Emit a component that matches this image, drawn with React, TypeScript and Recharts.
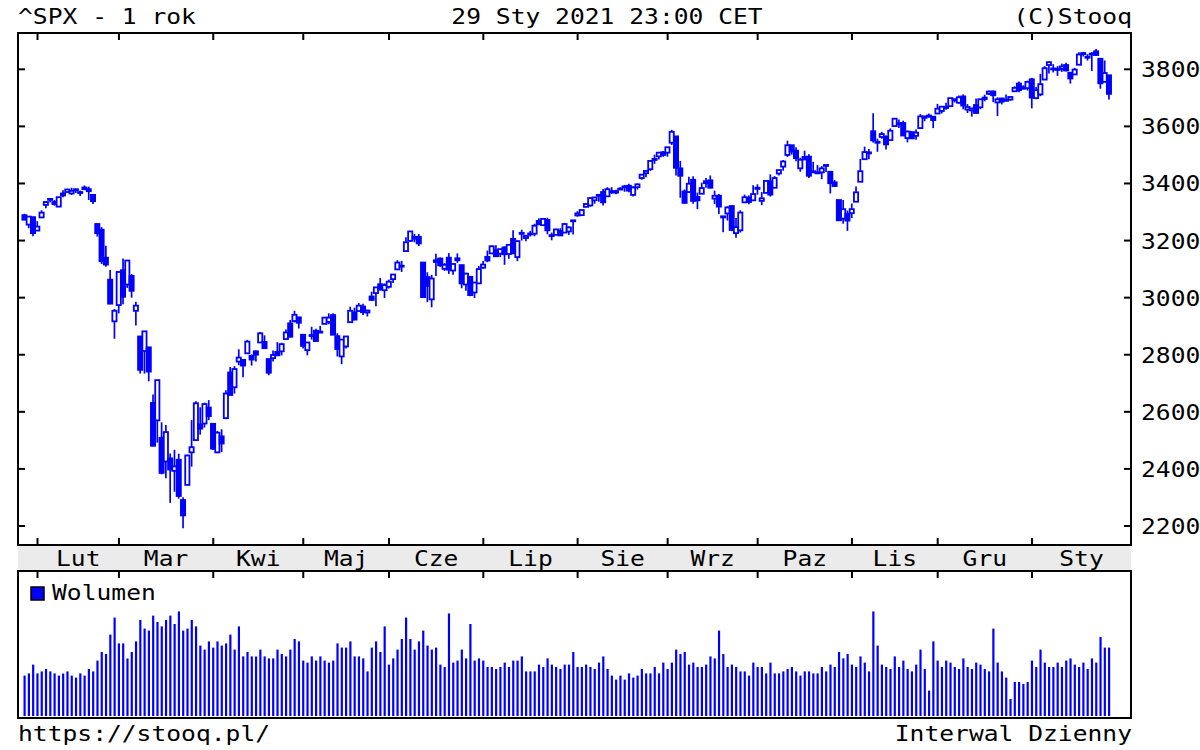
import React from 'react';
import { BarChart, Bar, XAxis, YAxis } from 'recharts';

// trading sessions, grouped by month
const tradingDays: [string, number[]][] = [
  ['2020-01', [29, 30, 31]],
  ['2020-02', [3, 4, 5, 6, 7, 10, 11, 12, 13, 14, 18, 19, 20, 21, 24, 25, 26, 27, 28]],
  ['2020-03', [2, 3, 4, 5, 6, 9, 10, 11, 12, 13, 16, 17, 18, 19, 20, 23, 24, 25, 26, 27, 30, 31]],
  ['2020-04', [1, 2, 3, 6, 7, 8, 9, 13, 14, 15, 16, 17, 20, 21, 22, 23, 24, 27, 28, 29, 30]],
  ['2020-05', [1, 4, 5, 6, 7, 8, 11, 12, 13, 14, 15, 18, 19, 20, 21, 22, 26, 27, 28, 29]],
  ['2020-06', [1, 2, 3, 4, 5, 8, 9, 10, 11, 12, 15, 16, 17, 18, 19, 22, 23, 24, 25, 26, 29, 30]],
  ['2020-07', [1, 2, 6, 7, 8, 9, 10, 13, 14, 15, 16, 17, 20, 21, 22, 23, 24, 27, 28, 29, 30, 31]],
  ['2020-08', [3, 4, 5, 6, 7, 10, 11, 12, 13, 14, 17, 18, 19, 20, 21, 24, 25, 26, 27, 28, 31]],
  ['2020-09', [1, 2, 3, 4, 8, 9, 10, 11, 14, 15, 16, 17, 18, 21, 22, 23, 24, 25, 28, 29, 30]],
  ['2020-10', [1, 2, 5, 6, 7, 8, 9, 12, 13, 14, 15, 16, 19, 20, 21, 22, 23, 26, 27, 28, 29, 30]],
  ['2020-11', [2, 3, 4, 5, 6, 9, 10, 11, 12, 13, 16, 17, 18, 19, 20, 23, 24, 25, 27, 30]],
  ['2020-12', [1, 2, 3, 4, 7, 8, 9, 10, 11, 14, 15, 16, 17, 18, 21, 22, 23, 24, 28, 29, 30, 31]],
  ['2021-01', [4, 5, 6, 7, 8, 11, 12, 13, 14, 15, 19, 20, 21, 22, 25, 26, 27, 28, 29]],
];

const openPx = [
  3289, 3256, 3282,
  3235, 3281, 3325, 3344, 3335, 3319, 3365, 3370, 3365, 3379, 3369, 3380, 3380, 3360, 3258, 3238, 3140, 3063, 2917,
  2974, 3096, 3046, 3076, 2954, 2864, 2813, 2826, 2631, 2570, 2509, 2426, 2437, 2393, 2432, 2291, 2344, 2458, 2501, 2556, 2559, 2615,
  2558, 2458, 2514, 2578, 2738, 2686, 2776, 2782, 2805, 2796, 2812, 2843, 2845, 2785, 2788, 2810, 2812, 2855, 2910, 2918, 2931,
  2870, 2816, 2869, 2884, 2879, 2908, 2915, 2939, 2865, 2794, 2829, 2914, 2948, 2953, 2969, 2948, 3004, 3016, 3047, 3026,
  3038, 3065, 3099, 3112, 3163, 3199, 3213, 3213, 3123, 3072, 2994, 3131, 3137, 3101, 3140, 3095, 3138, 3114, 3046, 3073, 3018, 3050,
  3105, 3143, 3155, 3166, 3154, 3176, 3153, 3206, 3142, 3225, 3209, 3224, 3224, 3269, 3254, 3272, 3219, 3220, 3234, 3228, 3232, 3270,
  3288, 3289, 3318, 3323, 3341, 3357, 3370, 3355, 3373, 3368, 3380, 3387, 3392, 3360, 3387, 3419, 3436, 3450, 3486, 3495, 3509,
  3508, 3543, 3565, 3453, 3372, 3370, 3413, 3353, 3364, 3408, 3411, 3347, 3357, 3285, 3295, 3321, 3226, 3236, 3334, 3350, 3341,
  3385, 3339, 3367, 3408, 3385, 3435, 3459, 3500, 3534, 3515, 3453, 3493, 3494, 3439, 3439, 3439, 3464, 3441, 3404, 3342, 3277, 3293,
  3296, 3336, 3406, 3485, 3509, 3583, 3543, 3563, 3563, 3552, 3601, 3611, 3612, 3559, 3580, 3567, 3594, 3635, 3638, 3634,
  3645, 3654, 3668, 3671, 3695, 3683, 3705, 3659, 3656, 3675, 3667, 3696, 3714, 3722, 3684, 3698, 3693, 3694, 3723, 3750, 3737, 3734,
  3765, 3699, 3712, 3764, 3815, 3803, 3801, 3802, 3815, 3788, 3782, 3816, 3857, 3844, 3852, 3863, 3837, 3756, 3779,
];

const highPx = [
  3294, 3286, 3282,
  3268, 3306, 3338, 3348, 3342, 3352, 3376, 3381, 3385, 3381, 3375, 3393, 3389, 3361, 3260, 3247, 3182, 3097, 2960,
  3091, 3137, 3131, 3083, 2986, 2864, 2883, 2826, 2661, 2711, 2563, 2554, 2454, 2467, 2453, 2301, 2450, 2571, 2637, 2616, 2632, 2641,
  2560, 2533, 2539, 2676, 2757, 2760, 2819, 2782, 2852, 2801, 2815, 2880, 2868, 2785, 2815, 2844, 2842, 2888, 2922, 2954, 2931,
  2870, 2844, 2898, 2891, 2901, 2932, 2945, 2945, 2875, 2852, 2865, 2968, 2965, 2981, 2979, 2957, 3021, 3036, 3069, 3050,
  3063, 3081, 3131, 3129, 3212, 3233, 3223, 3223, 3123, 3089, 3080, 3154, 3141, 3121, 3156, 3120, 3155, 3115, 3087, 3073, 3054, 3111,
  3128, 3165, 3183, 3184, 3171, 3180, 3186, 3236, 3200, 3238, 3220, 3234, 3259, 3278, 3279, 3280, 3228, 3241, 3243, 3262, 3250, 3272,
  3303, 3307, 3331, 3351, 3353, 3363, 3381, 3387, 3387, 3378, 3387, 3395, 3399, 3390, 3400, 3433, 3444, 3482, 3501, 3509, 3514,
  3528, 3588, 3565, 3479, 3379, 3424, 3425, 3368, 3403, 3419, 3428, 3375, 3363, 3285, 3320, 3324, 3279, 3306, 3361, 3358, 3394,
  3397, 3370, 3409, 3432, 3426, 3447, 3482, 3550, 3534, 3527, 3490, 3515, 3502, 3476, 3465, 3461, 3466, 3441, 3412, 3342, 3342, 3305,
  3330, 3389, 3486, 3529, 3521, 3646, 3557, 3581, 3569, 3593, 3628, 3624, 3620, 3585, 3582, 3589, 3643, 3636, 3645, 3634,
  3679, 3670, 3683, 3699, 3698, 3708, 3712, 3678, 3665, 3698, 3695, 3711, 3726, 3726, 3702, 3698, 3712, 3704, 3740, 3757, 3744, 3760,
  3770, 3738, 3784, 3811, 3827, 3818, 3811, 3820, 3823, 3789, 3805, 3860, 3861, 3853, 3860, 3871, 3837, 3831, 3779,
];

const lowPx = [
  3272, 3243, 3215,
  3235, 3281, 3313, 3333, 3322, 3317, 3352, 3370, 3360, 3367, 3356, 3379, 3342, 3328, 3214, 3118, 3108, 2977, 2856,
  2945, 2977, 3034, 3000, 2902, 2734, 2734, 2707, 2479, 2492, 2381, 2367, 2281, 2320, 2296, 2192, 2344, 2408, 2501, 2520, 2545, 2571,
  2466, 2455, 2459, 2574, 2657, 2664, 2763, 2721, 2805, 2762, 2776, 2843, 2821, 2728, 2776, 2795, 2798, 2855, 2860, 2913, 2892,
  2822, 2798, 2853, 2847, 2876, 2908, 2907, 2869, 2794, 2767, 2822, 2914, 2921, 2953, 2939, 2934, 2988, 2970, 3024, 2999,
  3032, 3051, 3099, 3090, 3163, 3197, 3194, 3181, 2999, 2984, 2966, 3076, 3108, 3094, 3083, 3080, 3122, 3033, 3024, 3005, 2999, 3048,
  3101, 3124, 3155, 3142, 3142, 3115, 3136, 3154, 3128, 3200, 3198, 3214, 3215, 3254, 3253, 3222, 3201, 3220, 3216, 3228, 3220, 3221,
  3284, 3287, 3318, 3318, 3329, 3336, 3323, 3355, 3363, 3362, 3379, 3371, 3369, 3354, 3379, 3413, 3422, 3444, 3469, 3484, 3494,
  3494, 3535, 3428, 3350, 3329, 3367, 3329, 3310, 3364, 3385, 3385, 3328, 3293, 3229, 3270, 3233, 3210, 3228, 3334, 3327, 3341,
  3361, 3324, 3367, 3354, 3385, 3428, 3445, 3493, 3501, 3478, 3441, 3483, 3419, 3439, 3433, 3415, 3440, 3365, 3388, 3269, 3259, 3234,
  3279, 3336, 3405, 3485, 3485, 3543, 3511, 3557, 3519, 3552, 3601, 3594, 3567, 3544, 3557, 3553, 3594, 3618, 3630, 3594,
  3645, 3645, 3658, 3670, 3684, 3679, 3660, 3647, 3634, 3646, 3660, 3688, 3710, 3685, 3636, 3677, 3689, 3690, 3723, 3720, 3730, 3726,
  3663, 3695, 3706, 3764, 3785, 3789, 3777, 3791, 3792, 3750, 3782, 3816, 3845, 3831, 3794, 3847, 3732, 3756, 3694,
];

const closePx = [
  3273, 3284, 3226,
  3249, 3298, 3335, 3346, 3328, 3352, 3358, 3379, 3374, 3380, 3370, 3386, 3373, 3338, 3226, 3128, 3116, 2979, 2954,
  3090, 3003, 3130, 3024, 2972, 2747, 2882, 2741, 2481, 2711, 2386, 2529, 2398, 2409, 2305, 2237, 2447, 2476, 2630, 2541, 2627, 2585,
  2471, 2527, 2489, 2664, 2659, 2750, 2790, 2762, 2846, 2783, 2800, 2875, 2823, 2737, 2799, 2798, 2837, 2878, 2863, 2940, 2912,
  2831, 2843, 2868, 2848, 2881, 2930, 2930, 2870, 2820, 2853, 2864, 2954, 2923, 2972, 2949, 2955, 2992, 3036, 3030, 3044,
  3056, 3081, 3123, 3112, 3194, 3232, 3207, 3190, 3002, 3041, 3067, 3125, 3113, 3115, 3098, 3118, 3131, 3050, 3084, 3009, 3053, 3100,
  3116, 3130, 3180, 3145, 3170, 3152, 3185, 3155, 3198, 3227, 3216, 3225, 3252, 3257, 3276, 3236, 3216, 3239, 3218, 3258, 3246, 3271,
  3295, 3307, 3328, 3349, 3351, 3360, 3334, 3380, 3373, 3373, 3382, 3390, 3375, 3386, 3397, 3431, 3444, 3479, 3485, 3508, 3500,
  3527, 3581, 3455, 3427, 3332, 3399, 3339, 3341, 3384, 3401, 3385, 3357, 3319, 3281, 3316, 3237, 3247, 3298, 3352, 3335, 3363,
  3381, 3348, 3409, 3361, 3419, 3447, 3477, 3534, 3512, 3489, 3483, 3484, 3427, 3443, 3436, 3453, 3465, 3401, 3391, 3271, 3310, 3270,
  3310, 3369, 3443, 3510, 3509, 3551, 3546, 3573, 3537, 3585, 3627, 3610, 3568, 3582, 3558, 3578, 3635, 3630, 3638, 3622,
  3662, 3669, 3667, 3699, 3692, 3702, 3673, 3668, 3663, 3647, 3695, 3701, 3722, 3709, 3695, 3687, 3690, 3703, 3735, 3727, 3732, 3756,
  3701, 3727, 3748, 3804, 3825, 3800, 3801, 3810, 3796, 3768, 3799, 3852, 3853, 3841, 3855, 3850, 3751, 3787, 3714,
];

const volume = [
  2020, 2130, 2570, 2130, 2230, 2350, 2230, 2130, 2020, 2130,
  2230, 2020, 1920, 2130, 2020, 2350, 2230, 2770, 3200, 3100,
  4070, 4920, 3630, 3630, 2880, 3200, 3730, 4800, 4370, 4270,
  5020, 4700, 4480, 4800, 5020, 4600, 5230, 4270, 4370, 4800,
  4480, 3520, 3320, 3730, 3420, 3730, 3520, 3630, 4070, 3320,
  4480, 2980, 3200, 2980, 2980, 3320, 2980, 2880, 2880, 3320,
  3100, 2980, 3320, 3850, 3730, 2770, 2670, 2980, 2770, 2980,
  2770, 2670, 2770, 3630, 3420, 3420, 3730, 2980, 2980, 2880,
  2230, 3420, 3730, 3200, 4480, 2570, 2880, 3320, 3850, 4920,
  3850, 3320, 3730, 4270, 3520, 3320, 3420, 2570, 2450, 5130,
  2670, 2770, 3320, 2880, 4600, 2770, 2880, 2770, 2450, 2450,
  2350, 2450, 2670, 2450, 2770, 2770, 2980, 2230, 2230, 2230,
  2570, 2450, 2880, 2570, 2450, 2350, 2570, 2570, 3200, 2450,
  2450, 2570, 2450, 2350, 2670, 2980, 2350, 2020, 1820, 2020,
  1820, 2130, 1920, 2020, 2350, 2130, 2130, 2450, 2130, 2670,
  2350, 2670, 3320, 3100, 3200, 2570, 2670, 2450, 2450, 2570,
  2980, 2880, 4270, 3100, 2450, 2570, 2450, 2230, 2230, 2020,
  2670, 2450, 2450, 2130, 2670, 2130, 2130, 2230, 2350, 2450,
  2230, 2020, 2230, 2230, 2130, 2130, 2450, 2230, 2570, 2450,
  3200, 2880, 3100, 2570, 2450, 2980, 2670, 2230, 5230, 3520,
  2570, 2450, 2350, 2980, 2450, 2770, 2350, 2230, 2570, 3320,
  2350, 1270, 3730, 2770, 2450, 2770, 2670, 2450, 2350, 2880,
  2450, 2350, 2670, 2570, 2350, 2230, 4370, 2670, 2230, 1920,
  850, 1700, 1700, 1600, 1700, 2770, 2450, 3320, 2670, 2450,
  2450, 2670, 2450, 2770, 2880, 2570, 2450, 2670, 2350, 2880,
  2670, 3950, 3420, 3420,
];

const priceTicks = [2200, 2400, 2600, 2800, 3000, 3200, 3400, 3600, 3800];
const monthNames = ['Sty', 'Lut', 'Mar', 'Kwi', 'Maj', 'Cze', 'Lip', 'Sie', 'Wrz', 'Paz', 'Lis', 'Gru'];

const BLUE = '#0000ff';
const FONT = '"DejaVu Sans Mono", monospace';
const FONT_SIZE = 22;
const STRETCH = 1.12;

// layout
const PLOT_L = 18;
const PLOT_R = 1131;
const PLOT_T = 33;
const PLOT_B = 545;
const BAND_B = 571;
const VOL_B = 718;
const PAD_L = 4.5;
const PAD_R = 19.7;

const rows = tradingDays
  .flatMap(([m, days]) => days.map((d) => `${m}-${String(d).padStart(2, '0')}`))
  .map((date, i) => ({
    date,
    month: date.slice(0, 7),
    open: openPx[i],
    high: highPx[i],
    low: lowPx[i],
    close: closePx[i],
    vol: volume[i],
  }));

const indexByDate = new Map(rows.map((r, i) => [r.date, i]));
const monthSize = new Map(tradingDays.map(([m, days]) => [m, days.length]));
const BAND = (PLOT_R - PLOT_L - PAD_L - PAD_R) / rows.length;

const Txt = ({ x, y, anchor = 'start', children }: { x: number; y: number; anchor?: string; children: React.ReactNode }) => (
  <text
    transform={`translate(${x} ${y}) scale(${STRETCH} 1)`}
    textAnchor={anchor as any}
    fontFamily={FONT}
    fontSize={FONT_SIZE}
    fill="#000"
  >
    {children}
  </text>
);

const Candle = (props: any) => {
  const { x, y, width, height, payload } = props;
  const { open, high, low, close } = payload;
  const top = Math.min(y, y + height);
  const h = Math.abs(height);
  const k = h / (high - low);
  const cx = x + width / 2;
  const yOf = (v: number) => top + (high - v) * k;
  const bTop = yOf(Math.max(open, close));
  const bBot = yOf(Math.min(open, close));
  const up = close > open;
  return (
    <g>
      <line x1={cx} x2={cx} y1={top} y2={top + h} stroke={BLUE} strokeWidth={1.7} />
      <rect
        x={cx - 2.1}
        y={bTop}
        width={4.2}
        height={Math.max(bBot - bTop, 1)}
        fill={up ? '#fff' : BLUE}
        stroke={BLUE}
        strokeWidth={1.8}
      />
    </g>
  );
};

const MonthTick = (props: any) => {
  const { x, payload } = props;
  const i = indexByDate.get(payload.value);
  if (i == null || i === 0 || rows[i].month === rows[i - 1].month) return <g />;
  const m = rows[i].month;
  const isLast = m === rows[rows.length - 1].month;
  const next = isLast ? PLOT_R : x + (monthSize.get(m) ?? 0) * BAND;
  const label = monthNames[Number(m.slice(5)) - 1];
  return (
    <g>
      <line x1={x} x2={x} y1={PLOT_T} y2={PLOT_T + 7} stroke="#000" strokeWidth={2} />
      <line x1={x} x2={x} y1={PLOT_B - 7} y2={PLOT_B} stroke="#000" strokeWidth={2} />
      <line x1={x} x2={x} y1={BAND_B} y2={BAND_B + 7} stroke="#000" strokeWidth={2} />
      <Txt x={(x + next) / 2} y={566} anchor="middle">{label}</Txt>
    </g>
  );
};

const PriceTick = (props: any) => {
  const { y, payload } = props;
  return (
    <g>
      <line x1={PLOT_L} x2={PLOT_L + 7} y1={y} y2={y} stroke="#000" strokeWidth={2} />
      <line x1={PLOT_R - 7} x2={PLOT_R} y1={y} y2={y} stroke="#000" strokeWidth={2} />
      <Txt x={1141} y={y + 8}>{payload.value}</Txt>
    </g>
  );
};

export default function App() {
  return (
    <div style={{ position: 'absolute', left: 0, top: 0, width: 1200, height: 750, background: '#fff' }}>
      <div style={{ position: 'absolute', left: PLOT_L, top: PLOT_B, width: PLOT_R - PLOT_L, height: BAND_B - PLOT_B, background: '#ebebeb' }} />

      <div style={{ position: 'absolute', left: 0, top: 0 }}>
        <BarChart width={1200} height={580} data={rows} margin={{ top: PLOT_T, right: 0, left: PLOT_L, bottom: 9 }}>
          <XAxis
            dataKey="date"
            height={26}
            interval={0}
            axisLine={false}
            tickLine={false}
            padding={{ left: PAD_L, right: PAD_R }}
            tick={<MonthTick />}
          />
          <YAxis
            orientation="right"
            width={1200 - PLOT_R}
            domain={[2133.4, 3927.2]}
            ticks={priceTicks}
            axisLine={false}
            tickLine={false}
            tick={<PriceTick />}
          />
          <Bar dataKey={(d: any) => [d.low, d.high]} barSize={5} shape={<Candle />} isAnimationActive={false} />
        </BarChart>
      </div>

      <div style={{ position: 'absolute', left: 0, top: BAND_B }}>
        <BarChart width={1200} height={150} data={rows} margin={{ top: 10, right: 1200 - PLOT_R, left: PLOT_L, bottom: 5 }}>
          <XAxis dataKey="date" hide padding={{ left: PAD_L, right: PAD_R }} />
          <YAxis hide domain={[0, 6750]} />
          <Bar dataKey="vol" fill={BLUE} barSize={2.2} isAnimationActive={false} />
        </BarChart>
      </div>

      <svg width={1200} height={750} style={{ position: 'absolute', left: 0, top: 0, pointerEvents: 'none' }}>
        <rect x={PLOT_L} y={PLOT_T} width={PLOT_R - PLOT_L} height={PLOT_B - PLOT_T} fill="none" stroke="#000" strokeWidth={2} />
        <rect x={PLOT_L} y={BAND_B} width={PLOT_R - PLOT_L} height={VOL_B - BAND_B} fill="none" stroke="#000" strokeWidth={2} />
        <Txt x={18} y={23.5}>^SPX - 1 rok</Txt>
        <Txt x={607} y={23.5} anchor="middle">29 Sty 2021 23:00 CET</Txt>
        <Txt x={1132} y={23.5} anchor="end">(C)Stooq</Txt>
        <rect x={31} y={587} width={13} height={13} fill={BLUE} stroke="#000" strokeWidth={1.5} />
        <Txt x={52} y={600}>Wolumen</Txt>
        <Txt x={18} y={741}>https://stooq.pl/</Txt>
        <Txt x={1132} y={741} anchor="end">Interwal Dzienny</Txt>
      </svg>
    </div>
  );
}
